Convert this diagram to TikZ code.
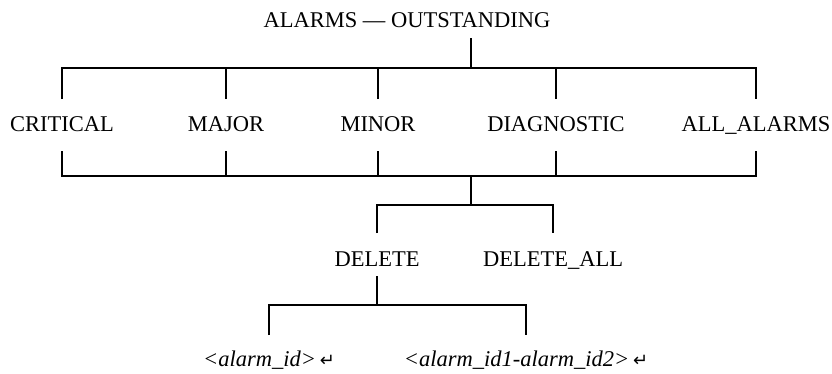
\documentclass[tikz,border=0pt]{standalone}
\usepackage{fontspec}
\setmainfont{Liberation Serif}
\newfontfamily\symfont{DejaVu Sans}
\usetikzlibrary{calc}
\newcommand{\lblfont}{\fontsize{22.5}{27}\selectfont}
\newcommand{\retsym}{{\symfont\fontsize{18}{20}\selectfont ↵}}
\begin{document}
\begin{tikzpicture}[x=1pt,y=-1pt,line width=2.4pt,
  lbl/.style={inner sep=0pt,text height=15pt,text depth=0pt,font=\lblfont},
  leaf/.style={lbl,font=\lblfont\itshape}]
\useasboundingbox (0,0) rectangle (832,373);
% nodes
\node[lbl] (title) at (407,20) {ALARMS — OUTSTANDING};
\node[lbl] (crit)  at (62,124)  {CRITICAL};
\node[lbl] (major) at (226,124) {MAJOR};
\node[lbl] (minor) at (378,124) {MINOR};
\node[lbl] (diag)  at (556,124) {DIAGNOSTIC};
\node[lbl] (allal) at (756,124) {ALL\_ALARMS};
\node[lbl] (del)    at (377,259) {DELETE};
\node[lbl] (delall) at (553,259) {DELETE\_ALL};
\node[leaf] (leafa) at (269,359) {<alarm\_id>\,\retsym};
\node[leaf] (leafb) at (526,359) {<alarm\_id1-alarm\_id2>\,\retsym};
% junction coordinates
\coordinate (t0) at (471,38);
\coordinate (tb) at (471,68);
\coordinate (lb) at (471,176);
\coordinate (db) at (471,205);
\coordinate (lf) at (377,305);
% title to first row
\draw (t0) -- (tb);
\draw ($(crit)+(0,-25)$) |- (tb) -| ($(allal)+(0,-25)$);
\foreach \n in {major,minor,diag}
  \draw ($(\n)+(0,-25)$) -- (\n |- tb);
% first row to lower bar
\draw ($(crit)+(0,27)$) |- (lb) -| ($(allal)+(0,27)$);
\foreach \n in {major,minor,diag}
  \draw ($(\n)+(0,27)$) -- (\n |- lb);
\draw (lb) -- (db);
% delete row
\draw ($(del)+(0,-26)$) |- (db) -| ($(delall)+(0,-26)$);
\draw ($(del)+(0,17)$) -- (lf);
\draw ($(leafa)+(0,-24)$) |- (lf) -| ($(leafb)+(0,-24)$);
\end{tikzpicture}
\end{document}
